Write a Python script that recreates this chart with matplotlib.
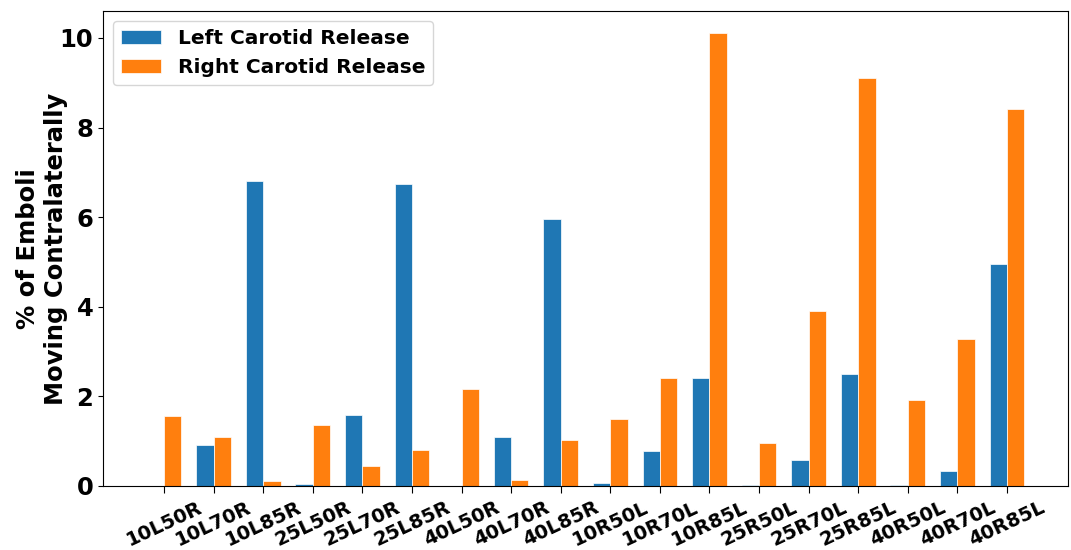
import matplotlib.pyplot as plt
import numpy as np

cases = [
    "10L50R", "10L70R", "10L85R", "25L50R", "25L70R", "25L85R",
    "40L50R", "40L70R", "40L85R", "10R50L", "10R70L", "10R85L",
    "25R50L", "25R70L", "25R85L", "40R50L", "40R70L", "40R85L",
]
left_release = [0.0, 0.92, 6.8, 0.05, 1.58, 6.73, 0.0, 1.1, 5.95,
                0.07, 0.78, 2.42, 0.03, 0.57, 2.5, 0.03, 0.33, 4.95]
right_release = [1.57, 1.1, 0.1, 1.35, 0.45, 0.8, 2.17, 0.13, 1.02,
                 1.5, 2.42, 10.1, 0.95, 3.9, 9.1, 1.92, 3.27, 8.42]

plt.rcParams["font.weight"] = "bold"
plt.rcParams["axes.labelweight"] = "bold"

fig = plt.figure(figsize=(10.71, 5.5), dpi=100)
ax = fig.add_axes([0.0962, 0.1164, 0.901, 0.8636])

x = np.arange(len(cases))
width = 0.35
ax.bar(x - width / 2, left_release, width, color="#1f77b4", edgecolor="white",
       linewidth=0.5, label="Left Carotid Release")
ax.bar(x + width / 2, right_release, width, color="#ff7f0e", edgecolor="white",
       linewidth=0.5, label="Right Carotid Release")

ax.set_xlim(-1.23, 18.23)
ax.set_ylim(0, 10.6)
ax.set_xticks(x)
ax.set_xticklabels(cases, rotation=25, fontsize=14, fontweight="bold")
ax.set_yticks([0, 2, 4, 6, 8, 10])
ax.tick_params(axis="y", labelsize=17.5)
ax.tick_params(axis="x", length=5)
ax.set_ylabel("% of Emboli\nMoving Contralaterally", fontsize=17.5,
              fontweight="bold", labelpad=-6)
ax.legend(loc="upper left", fontsize=14.5)

fig.savefig("out.png", dpi=100)
